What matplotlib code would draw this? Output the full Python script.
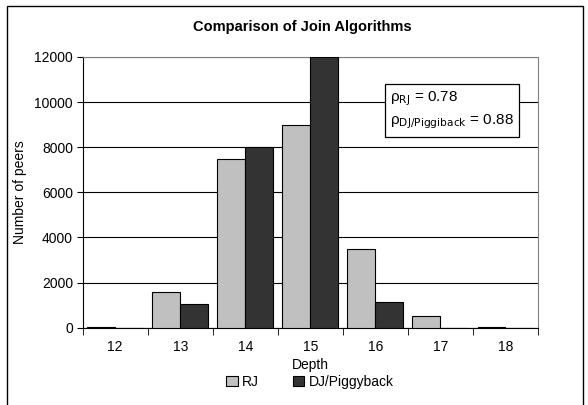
import matplotlib.pyplot as plt
import numpy as np
from matplotlib.patches import Rectangle

plt.rcParams['font.family'] = ['Liberation Sans', 'DejaVu Sans']

depths = ['12', '13', '14', '15', '16', '17', '18']
rj = [50, 1600, 7500, 9000, 3500, 500, 30]
dj = [0, 1050, 8000, 12000, 1150, 0, 0]

W, H = 588, 405
fig = plt.figure(figsize=(W / 100, H / 100), dpi=100)
ax = fig.add_axes([82.7 / W, 1 - 327.7 / H, (538 - 82.7) / W, (327.7 - 57) / H])

x = np.arange(len(depths))
bw = 0.43
ax.bar(x - bw / 2, rj, bw, color='#c0c0c0', edgecolor='black', linewidth=0.8, label='RJ', zorder=3)
ax.bar(x + bw / 2, dj, bw, color='#333333', edgecolor='black', linewidth=0.8, label='DJ/Piggyback', zorder=3)

ax.set_xlim(-0.5, len(depths) - 0.5)
ax.set_ylim(0, 12000)
ax.set_yticks(np.arange(0, 12001, 2000))
ax.yaxis.grid(True, color='black', linewidth=0.8, zorder=0)
ax.set_xticks(x)
ax.set_xticklabels(depths)
ax.set_xticks(np.arange(-0.5, len(depths), 1), minor=True)
ax.tick_params(axis='x', which='major', length=0, pad=9, labelsize=10)
ax.tick_params(axis='x', which='minor', length=5, direction='out', color='black')
ax.tick_params(axis='y', length=4, direction='out', labelsize=10, pad=3)

for s in ['top', 'right']:
    ax.spines[s].set_color('#808080')
for s in ['left', 'bottom']:
    ax.spines[s].set_color('black')

ax.set_xlabel('Depth', fontsize=10, labelpad=3)
ax.set_ylabel('Number of peers', fontsize=10, labelpad=5)

fig.text(302 / W, 1 - 27 / H, 'Comparison of Join Algorithms', ha='center', va='center',
         fontsize=10.5, fontweight='bold')

# correlation box
ax.text(0.675, 0.882, 'ρ$_{\\mathrm{RJ}}$ = 0.78' + '\n' + 'ρ$_{\\mathrm{DJ/Piggiback}}$ = 0.88',
        transform=ax.transAxes, ha='left', va='top', fontsize=11, linespacing=1.45,
        bbox=dict(boxstyle='square,pad=0.35', facecolor='white', edgecolor='black', linewidth=0.9),
        zorder=5)

fig.legend(loc='center', bbox_to_anchor=(310 / W, 1 - 382 / H), ncol=2, frameon=False,
           fontsize=10, handlelength=0.8, handleheight=0.8, columnspacing=2.5, handletextpad=0.3)

# outer chart border
fig.patches.append(Rectangle((7 / W, -0.1), (583 - 7) / W, 1.1 - 6 / H, transform=fig.transFigure,
                             fill=False, edgecolor='black', linewidth=1.0))

fig.savefig('out.png', dpi=100)
